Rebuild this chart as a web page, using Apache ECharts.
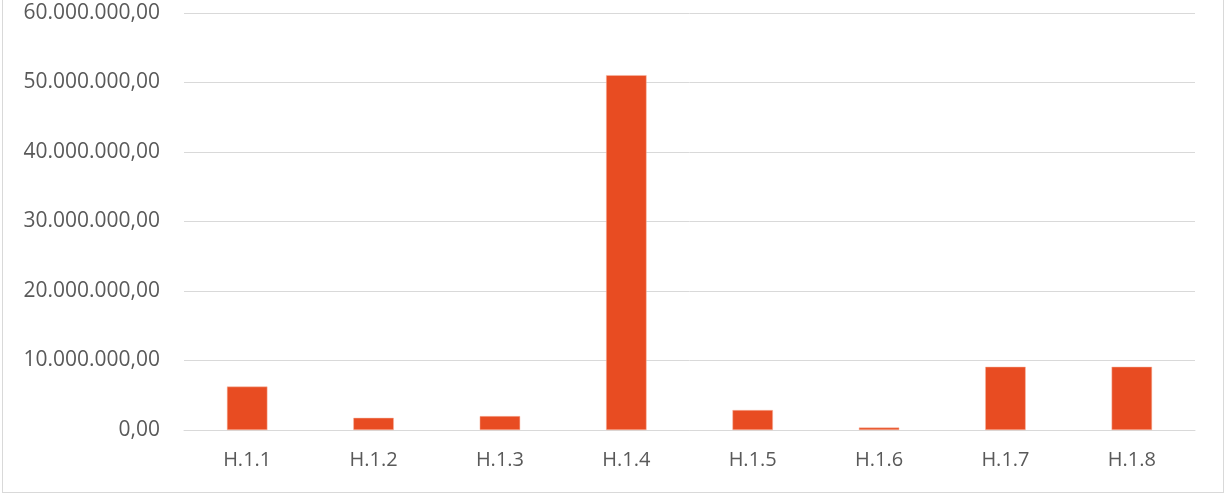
<!DOCTYPE html>
<html><head><meta charset="utf-8">
<script src="https://cdn.jsdelivr.net/npm/echarts@6/dist/echarts.min.js"></script>
<style>
html,body{margin:0;padding:0;background:#fff;overflow:hidden;}
#frame{position:absolute;left:2px;top:-10px;width:1222px;height:503px;border:1px solid #d9d9d9;box-sizing:border-box;}
#c{position:absolute;left:0;top:0;width:1226px;height:496px;}
</style></head>
<body>
<div id="frame"></div>
<div id="c"></div>
<script>
const categories = ['H.1.1','H.1.2','H.1.3','H.1.4','H.1.5','H.1.6','H.1.7','H.1.8'];
const values = [6250000, 1750000, 2000000, 51050000, 2870000, 350000, 9100000, 9100000];
const yTicks = [0, 10000000, 20000000, 30000000, 40000000, 50000000, 60000000];

function fmt(v){
  const s = Math.round(v).toString().replace(/\B(?=(\d{3})+(?!\d))/g, '.');
  return s + ',00';
}
const chart = echarts.init(document.getElementById('c'));
chart.setOption({
  animation:false,
  grid:{left:184,right:31,top:13,bottom:66,containLabel:false},
  xAxis:{type:'category',data:categories,
    axisLine:{lineStyle:{color:'#d9d9d9',width:1}},
    axisTick:{show:false},
    axisLabel:{color:'#595959',fontSize:20,fontFamily:'Open Sans',margin:20}
  },
  yAxis:{type:'value',min:yTicks[0],max:yTicks[yTicks.length-1],interval:10000000,
    axisLine:{show:false},axisTick:{show:false},
    splitLine:{lineStyle:{color:'#d9d9d9',width:1}},
    axisLabel:{color:'#595959',fontSize:21,fontFamily:'Open Sans',margin:24,formatter:fmt}
  },
  series:[{type:'bar',data:values,barWidth:'32%',
    itemStyle:{color:'#E84C22',borderColor:'#f7b9a5',borderWidth:0.5}}]
});
</script>
</body></html>
